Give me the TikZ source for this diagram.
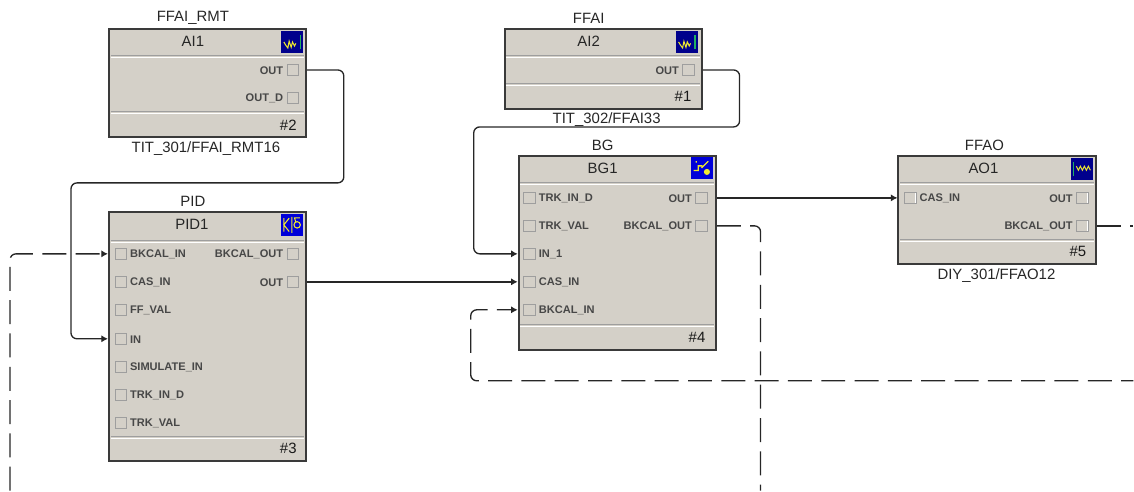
\documentclass[tikz,border=0pt]{standalone}
\usepackage{fontspec}
\setmainfont{Liberation Sans}
\usepackage{tikz}
\usetikzlibrary{arrows.meta,positioning}
\definecolor{blockgray}{HTML}{D4D0C8}
\definecolor{edgegray}{HTML}{3A3A3A}
\definecolor{icongreen}{HTML}{20B060}
\definecolor{iconyellow}{HTML}{F0E830}
\begin{document}
\begin{tikzpicture}[
  x=0.75pt, y=-0.75pt,
  fblock/.style={draw=edgegray, fill=blockgray, line width=1.5pt, anchor=north west,
    minimum width=148pt, inner sep=0pt},
  divgrey/.style={draw=black!38, line width=0.8pt},
  divwhite/.style={draw=white, line width=0.8pt},
  portbox/.style={draw=black!38, fill=blockgray, minimum size=8.8pt, inner sep=0pt, line width=0.5pt,
    path picture={\draw[white, line width=1.4pt] (path picture bounding box.north east)
      |- (path picture bounding box.south west);}},
  portlbl/.style={inner sep=0pt, yshift=-0.6pt, font=\fontsize{8.3}{9}\selectfont\bfseries, text=black!72},
  title/.style={inner sep=0pt, font=\fontsize{11.2}{12}\selectfont, text=black!85},
  caption/.style={inner sep=0pt, font=\fontsize{11.2}{12}\selectfont, text=black!85},
  num/.style={inner sep=0pt, font=\fontsize{11.2}{12}\selectfont, text=black!90, anchor=east},
  iconbox/.style={fill=#1, minimum size=16.5pt, inner sep=0pt},
  wire/.style={-{Latex[length=5pt,width=5.5pt]}, black!85, line width=1pt, rounded corners=4.5pt},
  dashwire/.style={wire, dash pattern=on 18pt off 7pt}
]
% function blocks
\node[fblock, minimum height=81pt] (ai1) at (108,28) {};
\node[fblock, minimum height=60pt] (ai2) at (504,28) {};
\node[fblock, minimum height=187pt] (pid) at (108,211) {};
\node[fblock, minimum height=146pt] (bg) at (518,155) {};
\node[fblock, minimum height=81pt] (ao) at (898,155) {};
% divider lines
\foreach \bk/\yy in {ai1/56,ai1/112,ai2/56,ai2/84,pid/241,pid/437,bg/183,bg/325,ao/183,ao/240} {
  \draw[divgrey] ([xshift=2pt]\bk.west |- 0,\yy) -- ([xshift=-2pt]\bk.east |- 0,\yy);
  \draw[divwhite] ([xshift=2pt]\bk.west |- 0,\yy+1.6) -- ([xshift=-2pt]\bk.east |- 0,\yy+1.6);
}
% block names and tags
\node[title] (ai1name) at (193,41) {AI1};
\node[title] (ai2name) at (589,41) {AI2};
\node[title] (pidname) at (192,224) {PID1};
\node[title] (bgname) at (603,168) {BG1};
\node[title] (aoname) at (984,168) {AO1};
\node[caption] (ai1top) at (193,18) {FFAI\_RMT};
\node[caption] (ai2top) at (589,18) {FFAI};
\node[caption] (pidtop) at (193,201) {PID};
\node[caption] (bgtop) at (603,145) {BG};
\node[caption] (aotop) at (985,145) {FFAO};
\node[caption] (ai1low) at (206,149) {TIT\_301/FFAI\_RMT16};
\node[caption] (ai2low) at (607,120) {TIT\_302/FFAI33};
\node[caption] (aolow) at (997,276) {DIY\_301/FFAO12};
\node[num] (ai1num) at (297,125) {\#2};
\node[num] (ai2num) at (692,96) {\#1};
\node[num] (pidnum) at (297,449) {\#3};
\node[num] (bgnum) at (706,338) {\#4};
\node[num] (aonum) at (1087,252) {\#5};
% ports on the left edge
\foreach \pn/\px/\py/\pt in {
  pidbk/121/254/BKCAL\_IN, pidcas/121/282/CAS\_IN, pidff/121/310/FF\_VAL, pidin/121/339/IN,
  pidsim/121/367/SIMULATE\_IN, pidtrk/121/395/TRK\_IN\_D, pidval/121/423/TRK\_VAL,
  bgtrk/530/198/TRK\_IN\_D, bgval/530/226/TRK\_VAL, bgin/530/254/IN\_1,
  bgcas/530/282/CAS\_IN, bgbk/530/310/BKCAL\_IN, aocas/911/198/CAS\_IN} {
  \node[portbox] (\pn) at (\px,\py) {};
  \node[portlbl, right=2pt of \pn] (\pn lbl) {\pt};
}
% ports on the right edge
\foreach \pn/\px/\py/\pt in {
  ai1out/293/70/OUT, ai1outd/293/98/OUT\_D, ai2out/689/70/OUT,
  pidbko/293/254/BKCAL\_OUT, pidout/293/282/OUT,
  bgout/702/198/OUT, bgbko/702/226/BKCAL\_OUT,
  aoout/1083/198/OUT, aobko/1083/226/BKCAL\_OUT} {
  \node[portbox] (\pn) at (\px,\py) {};
  \node[portlbl, left=2.4pt of \pn] (\pn lbl) {\pt};
}
% icons
\node[iconbox=blue!55!black] (ai1icon) at (292,42) {};
\node[iconbox=blue!55!black] (ai2icon) at (687,42) {};
\node[iconbox=blue!85!black] (pidicon) at (292,225) {};
\node[iconbox=blue!85!black] (bgicon) at (702,168) {};
\node[iconbox=blue!55!black] (aoicon) at (1083,169) {};
\foreach \ic in {ai1icon,ai2icon} {
  \draw[iconyellow, line width=0.8pt] ([xshift=-6pt]\ic.center) -- ++(1.5pt,-2.5pt) -- ++(1.5pt,-2pt)
    -- ++(1pt,5pt) -- ++(1.5pt,-4.5pt) -- ++(1pt,4pt) -- ++(1.5pt,-3pt) -- ++(1pt,2pt);
  \draw[icongreen, line width=1pt] ([xshift=6.3pt,yshift=-5.5pt]\ic.center) -- ++(0,11pt);
}
\draw[iconyellow, line width=0.8pt] ([xshift=-4.5pt,yshift=2pt]aoicon.center) -- ++(1.5pt,-3pt) -- ++(1.5pt,3pt)
  -- ++(1.5pt,-3pt) -- ++(1.5pt,3pt) -- ++(1.5pt,-3pt) -- ++(1.5pt,3pt) -- ++(1.5pt,-3pt);
\draw[icongreen, line width=1pt] ([xshift=-6.5pt,yshift=-5.5pt]aoicon.center) -- ++(0,11pt);
\draw[iconyellow, line width=0.8pt] ([xshift=-6pt,yshift=5pt]pidicon.center) -- ++(0,-10pt)
  ([xshift=-2pt,yshift=5pt]pidicon.center) -- ([xshift=-6pt]pidicon.center) -- ([xshift=-2pt,yshift=-5pt]pidicon.center)
  ([xshift=0pt,yshift=-6pt]pidicon.center) -- ++(0,12pt)
  ([xshift=4pt,yshift=0pt]pidicon.center) circle (2.4pt)
  ([xshift=3pt,yshift=2.2pt]pidicon.center) -- ++(-1pt,3pt) -- ++(4pt,0);
\draw[iconyellow, line width=1pt] ([xshift=-6pt,yshift=-2pt]bgicon.center) -- ++(3.5pt,0) -- ++(0,3.5pt) -- ++(3pt,0)
  ([xshift=-4pt,yshift=5pt]bgicon.center) -- ++(0,-1pt)
  ([xshift=0pt,yshift=0pt]bgicon.center) -- ++(5pt,5pt);
\fill[iconyellow] ([xshift=4pt,yshift=-3pt]bgicon.center) circle (2.3pt);
% connectors
\draw[wire] (ai1.east |- ai1out) -- (344,70) -- (344,183) -- (71,183) -- (71,339) -- (pid.west |- pidin);
\draw[wire] (ai2.east |- ai2out) -- (740,70) -- (740,127) -- (474,127) -- (474,254) -- (bg.west |- bgin);
\draw[wire] (pid.east |- pidout) -- (bg.west |- bgcas);
\draw[wire] (bg.east |- bgout) -- (ao.west |- aocas);
% dashed connectors
\coordinate (pidfree) at (10,491);
\coordinate (bgfree) at (761,491);
\coordinate (aofree) at (1134,226);
\coordinate (loopfree) at (1134,381);
\draw[dashwire] (pidfree) -- (10,254) -- (pid.west |- pidbk);
\draw[dashwire, -] (bg.east |- bgbko) -- (761,226) -- (bgfree);
\draw[dashwire, -] (ao.east |- aobko) -- (aofree);
\draw[dashwire, dash phase=8.8pt] (loopfree) -- (471,381) -- (471,310) -- (bg.west |- bgbk);
\useasboundingbox (0,0) rectangle (1134,491);
\end{tikzpicture}
\end{document}
